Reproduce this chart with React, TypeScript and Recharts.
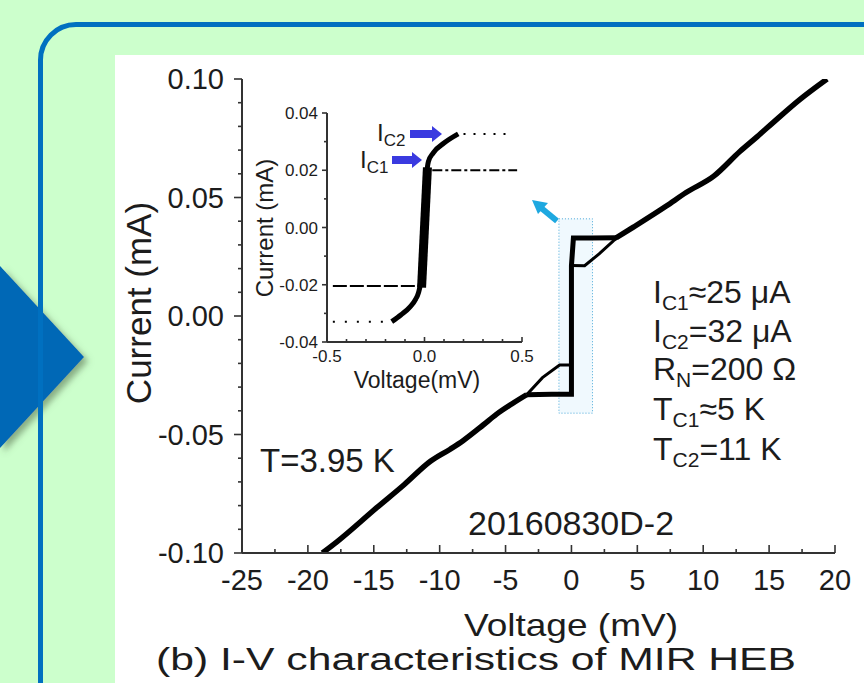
import React from 'react';
import { LineChart, Line, XAxis, YAxis, ReferenceArea } from 'recharts';

const FONT = '"Liberation Sans", Arial, sans-serif';
const INK = '#1c1c1c';

// main I-V sweep (mV, mA): normal-state branches and the switching step
const negV = [-18.9, -17.8, -14.8, -12.7, -10.7, -9.2, -8.2, -6.7, -5.7, -4.5, -3.4];
const negI = [-0.1, -0.0953, -0.081, -0.0712, -0.0613, -0.0562, -0.0525, -0.046, -0.0415, -0.037, -0.0332];
const stepV = [-3.4, -1.5, 0.0, 0.0, 0.15, 1.5, 3.4];
const stepI = [-0.0332, -0.033, -0.033, 0.0213, 0.0329, 0.0329, 0.033];
const posV = [3.4, 4.7, 7.2, 8.7, 10.8, 12.8, 14.1, 15.3, 17.3, 19.4];
const posI = [0.033, 0.0375, 0.0464, 0.0521, 0.059, 0.0695, 0.0757, 0.0816, 0.0912, 0.1];

// hysteresis return branches
const upperLoopV = [0.0, 1.0, 2.1, 3.2, 3.5];
const upperLoopI = [0.0213, 0.0212, 0.0262, 0.0318, 0.033];
const lowerLoopV = [-3.4, -2.2, -0.9, 0.0];
const lowerLoopI = [-0.0332, -0.026, -0.0207, -0.0207];

// zoom box drawn around the transition
const boxV = [-0.95, 1.6];
const boxI = [-0.041, 0.041];

const mainXMajor = [-25, -20, -15, -10, -5, 0, 5, 10, 15, 20];
const mainXMinor = [-22.5, -17.5, -12.5, -7.5, -2.5, 2.5, 7.5, 12.5, 17.5];
const mainYMajor = [-0.1, -0.05, 0, 0.05, 0.1];
const mainYMinor = [-0.09, -0.08, -0.07, -0.06, -0.04, -0.03, -0.02, -0.01, 0.01, 0.02, 0.03, 0.04, 0.06, 0.07, 0.08, 0.09];

// inset: small-bias detail
const insetV = [-0.168, -0.12, -0.074, -0.045, -0.032, -0.02, -0.012, -0.005, 0.005, 0.012, 0.02, 0.045, 0.1, 0.173];
const insetI = [-0.0329, -0.0305, -0.0277, -0.025, -0.023, -0.019, -0.01, 0.0, 0.01, 0.019, 0.023, 0.0261, 0.0295, 0.0327];
const coreV = [-0.015, 0.015];
const coreI = [-0.021, 0.021];
const ic2DotV = [0.2, 0.45];
const ic2DotI = [0.0327, 0.0327];
const ic1DashV = [0.04, 0.475];
const ic1DashI = [0.02, 0.02];
const negDashV = [-0.47, -0.02];
const negDashI = [-0.0204, -0.0204];
const negDotV = [-0.47, -0.19];
const negDotI = [-0.0329, -0.0329];

const insetXMajor = [-0.5, 0, 0.5];
const insetXMinor = [-0.4, -0.3, -0.2, -0.1, 0.1, 0.2, 0.3, 0.4];
const insetYMajor = [-0.04, -0.02, 0, 0.02, 0.04];
const insetYMinor = [-0.03, -0.01, 0.01, 0.03];

const pts = (v: number[], i: number[]) => v.map((x, k) => ({ v: x, i: i[k] }));
const isIn = (v: number, list: number[]) => list.some((m) => Math.abs(m - v) < 1e-9);

type TickCfg = {
  side: 'left' | 'right' | 'top' | 'bottom';
  majors: number[];
  major: number;
  minor: number;
  fmt?: (v: number) => string;
  fontSize?: number;
  gap?: number;
};

function makeTick(cfg: TickCfg) {
  return (props: any) => {
    const { x, y, payload } = props;
    const v = payload.value as number;
    const isMajor = isIn(v, cfg.majors);
    const len = isMajor ? cfg.major : cfg.minor;
    let x2 = x;
    let y2 = y;
    if (cfg.side === 'left' || cfg.side === 'right') x2 = x - len;
    else if (cfg.side === 'top') y2 = y + len;
    else y2 = y - len;
    let label = null;
    if (isMajor && cfg.fmt) {
      if (cfg.side === 'left') {
        label = (
          <text x={x - (cfg.gap || 10)} y={y} dy="0.36em" textAnchor="end" fontSize={cfg.fontSize} fill={INK} fontFamily={FONT}>
            {cfg.fmt(v)}
          </text>
        );
      } else {
        label = (
          <text x={x} y={y + (cfg.gap || 10)} textAnchor="middle" fontSize={cfg.fontSize} fill={INK} fontFamily={FONT}>
            {cfg.fmt(v)}
          </text>
        );
      }
    }
    return (
      <g>
        <line x1={x} y1={y} x2={x2} y2={y2} stroke="#333" strokeWidth={1.6} />
        {label}
      </g>
    );
  };
}

const axisLine = { stroke: '#333', strokeWidth: 2 };

export default function App() {
  return (
    <div style={{ position: 'absolute', left: 0, top: 0, width: 864, height: 683, overflow: 'hidden', background: '#ccffcc', fontFamily: FONT }}>
      <svg style={{ position: 'absolute', left: 0, top: 0 }} width={864} height={683}>
        <defs>
          <filter id="sh" x="-20%" y="-20%" width="150%" height="150%">
            <feDropShadow dx="4" dy="4" stdDeviation="3" floodColor="#4f6b46" floodOpacity="0.55" />
          </filter>
        </defs>
        <polygon points="0,266 84,357 0,448" fill="#0067b6" filter="url(#sh)" />
      </svg>
      <div style={{ position: 'absolute', left: 38, top: 22, width: 900, height: 800, border: '5px solid #0070c0', borderRadius: 38, boxSizing: 'border-box' }} />
      <div style={{ position: 'absolute', left: 115, top: 55, width: 760, height: 640, background: '#fff' }} />

      <div style={{ position: 'absolute', left: 0, top: 0 }}>
        <LineChart width={864} height={683} margin={{ top: 79, right: 29, bottom: 0, left: 0 }}>
          <XAxis xAxisId="b" dataKey="v" type="number" domain={[-25, 20]} allowDataOverflow orientation="bottom" height={130}
            ticks={[...mainXMajor, ...mainXMinor]} interval={0} tickSize={0} tickMargin={0} tickLine={false} axisLine={axisLine}
            tick={makeTick({ side: 'bottom', majors: mainXMajor, major: 8, minor: 4, fmt: (v) => String(v), fontSize: 29, gap: 37 })} />
          <XAxis xAxisId="t" dataKey="v" type="number" domain={[-25, 20]} allowDataOverflow orientation="top" height={0}
            ticks={[...mainXMajor, ...mainXMinor]} interval={0} tickSize={0} tickMargin={0} tickLine={false} axisLine={axisLine}
            tick={makeTick({ side: 'top', majors: mainXMajor, major: 8, minor: 4 })} />
          <YAxis yAxisId="l" type="number" domain={[-0.1, 0.1]} allowDataOverflow orientation="left" width={242}
            ticks={[...mainYMajor, ...mainYMinor]} interval={0} tickSize={0} tickMargin={0} tickLine={false} axisLine={axisLine}
            tick={makeTick({ side: 'left', majors: mainYMajor, major: 8, minor: 4, fmt: (v) => v.toFixed(2), fontSize: 29, gap: 18 })} />
          <YAxis yAxisId="r" type="number" domain={[-0.1, 0.1]} allowDataOverflow orientation="right" width={0}
            ticks={[...mainYMajor, ...mainYMinor]} interval={0} tickSize={0} tickMargin={0} tickLine={false} axisLine={axisLine}
            tick={makeTick({ side: 'right', majors: mainYMajor, major: 8, minor: 4 })} />
          <ReferenceArea xAxisId="b" yAxisId="l" x1={boxV[0]} x2={boxV[1]} y1={boxI[0]} y2={boxI[1]}
            fill="#e9f6fd" fillOpacity={0.7} stroke="#4aa8d8" strokeWidth={1} strokeDasharray="1 2" ifOverflow="visible" />
          <Line xAxisId="b" yAxisId="l" data={pts(lowerLoopV, lowerLoopI)} dataKey="i" type="linear" stroke="#000" strokeWidth={3} dot={false} isAnimationActive={false} />
          <Line xAxisId="b" yAxisId="l" data={pts(upperLoopV, upperLoopI)} dataKey="i" type="linear" stroke="#000" strokeWidth={3} dot={false} isAnimationActive={false} />
          <Line xAxisId="b" yAxisId="l" data={pts(stepV, stepI)} dataKey="i" type="linear" stroke="#000" strokeWidth={5} dot={false} isAnimationActive={false} />
          <Line xAxisId="b" yAxisId="l" data={pts(negV, negI)} dataKey="i" type="monotone" stroke="#000" strokeWidth={5.5} dot={false} isAnimationActive={false} />
          <Line xAxisId="b" yAxisId="l" data={pts(posV, posI)} dataKey="i" type="monotone" stroke="#000" strokeWidth={5.5} dot={false} isAnimationActive={false} />
        </LineChart>
      </div>

      <div style={{ position: 'absolute', left: 240, top: 100 }}>
        <LineChart width={300} height={300} margin={{ top: 13, right: 18, bottom: 0, left: 0 }}>
          <XAxis xAxisId="b" dataKey="v" type="number" domain={[-0.5, 0.5]} allowDataOverflow orientation="bottom" height={58}
            ticks={[...insetXMajor, ...insetXMinor]} interval={0} tickSize={0} tickMargin={0} tickLine={false} axisLine={axisLine}
            tick={makeTick({ side: 'bottom', majors: insetXMajor, major: 5, minor: 3, fmt: (v) => v.toFixed(1), fontSize: 17, gap: 20 })} />
          <XAxis xAxisId="t" dataKey="v" type="number" domain={[-0.5, 0.5]} allowDataOverflow orientation="top" height={0}
            ticks={[...insetXMajor, ...insetXMinor]} interval={0} tickSize={0} tickMargin={0} tickLine={false} axisLine={axisLine}
            tick={makeTick({ side: 'top', majors: insetXMajor, major: 5, minor: 3 })} />
          <YAxis yAxisId="l" type="number" domain={[-0.04, 0.04]} allowDataOverflow orientation="left" width={87}
            ticks={[...insetYMajor, ...insetYMinor]} interval={0} tickSize={0} tickMargin={0} tickLine={false} axisLine={axisLine}
            tick={makeTick({ side: 'left', majors: insetYMajor, major: 5, minor: 3, fmt: (v) => v.toFixed(2), fontSize: 17, gap: 9 })} />
          <YAxis yAxisId="r" type="number" domain={[-0.04, 0.04]} allowDataOverflow orientation="right" width={0}
            ticks={[...insetYMajor, ...insetYMinor]} interval={0} tickSize={0} tickMargin={0} tickLine={false} axisLine={axisLine}
            tick={makeTick({ side: 'right', majors: insetYMajor, major: 5, minor: 3 })} />
          <Line xAxisId="b" yAxisId="l" data={pts(ic2DotV, ic2DotI)} dataKey="i" stroke="#000" strokeWidth={2} strokeDasharray="2 8" dot={false} isAnimationActive={false} />
          <Line xAxisId="b" yAxisId="l" data={pts(ic1DashV, ic1DashI)} dataKey="i" stroke="#000" strokeWidth={2} strokeDasharray="10 3 3 3" dot={false} isAnimationActive={false} />
          <Line xAxisId="b" yAxisId="l" data={pts(negDashV, negDashI)} dataKey="i" stroke="#000" strokeWidth={2} strokeDasharray="14 3" dot={false} isAnimationActive={false} />
          <Line xAxisId="b" yAxisId="l" data={pts(negDotV, negDotI)} dataKey="i" stroke="#000" strokeWidth={2} strokeDasharray="2 10" dot={false} isAnimationActive={false} />
          <Line xAxisId="b" yAxisId="l" data={pts(coreV, coreI)} dataKey="i" stroke="#000" strokeWidth={9} dot={false} isAnimationActive={false} />
          <Line xAxisId="b" yAxisId="l" data={pts(insetV, insetI)} dataKey="i" type="monotone" stroke="#000" strokeWidth={5} dot={false} isAnimationActive={false} />
        </LineChart>
      </div>

      <svg style={{ position: 'absolute', left: 0, top: 0, pointerEvents: 'none' }} width={864} height={683} fontFamily={FONT} fill={INK}>
        {/* main axis titles and caption */}
        <text x={138} y={303} fontSize={35} textAnchor="middle" dominantBaseline="central" transform="rotate(-90 138 303)">Current (mA)</text>
        <text x={571} y={636} fontSize={32} textAnchor="middle" textLength={214} lengthAdjust="spacingAndGlyphs">Voltage (mV)</text>
        <text x={476} y={670} fontSize={31} textAnchor="middle" textLength={640} lengthAdjust="spacingAndGlyphs">(b) I-V characteristics of MIR HEB</text>

        <text x={260} y={472} fontSize={33}>T=3.95 K</text>
        <text x={468} y={535} fontSize={34}>20160830D-2</text>

        <text x={653} y={303} fontSize={32}>I<tspan fontSize={21} dy={7}>C1</tspan><tspan dy={-7}>≈25 μA</tspan></text>
        <text x={653} y={342} fontSize={32}>I<tspan fontSize={21} dy={7}>C2</tspan><tspan dy={-7}>=32 μA</tspan></text>
        <text x={653} y={380} fontSize={32}>R<tspan fontSize={21} dy={7}>N</tspan><tspan dy={-7}>=200 Ω</tspan></text>
        <text x={653} y={420} fontSize={32}>T<tspan fontSize={21} dy={7}>C1</tspan><tspan dy={-7}>≈5 K</tspan></text>
        <text x={653} y={460} fontSize={32}>T<tspan fontSize={21} dy={7}>C2</tspan><tspan dy={-7}>=11 K</tspan></text>

        {/* inset titles */}
        <text x={264} y={228} fontSize={24} textAnchor="middle" dominantBaseline="central" transform="rotate(-90 264 228)">Current (mA)</text>
        <text x={417} y={388} fontSize={23} textAnchor="middle">Voltage(mV)</text>

        <text x={377} y={141} fontSize={24}>I<tspan fontSize={17} dy={5}>C2</tspan></text>
        <text x={360} y={168} fontSize={24}>I<tspan fontSize={17} dy={5}>C1</tspan></text>
        <polygon points="410,130 432,130 432,126 442,134 432,142 432,138 410,138" fill="#3a3ae0" />
        <polygon points="392,156 412,156 412,152 422,160 412,168 412,164 392,164" fill="#3a3ae0" />

        {/* cyan pointer from the zoom box to the inset */}
        <line x1={557} y1={221} x2={540} y2={207} stroke="#1ea8e0" strokeWidth={6} />
        <polygon points="532,200 548,203 538,214" fill="#1ea8e0" />
      </svg>
    </div>
  );
}
